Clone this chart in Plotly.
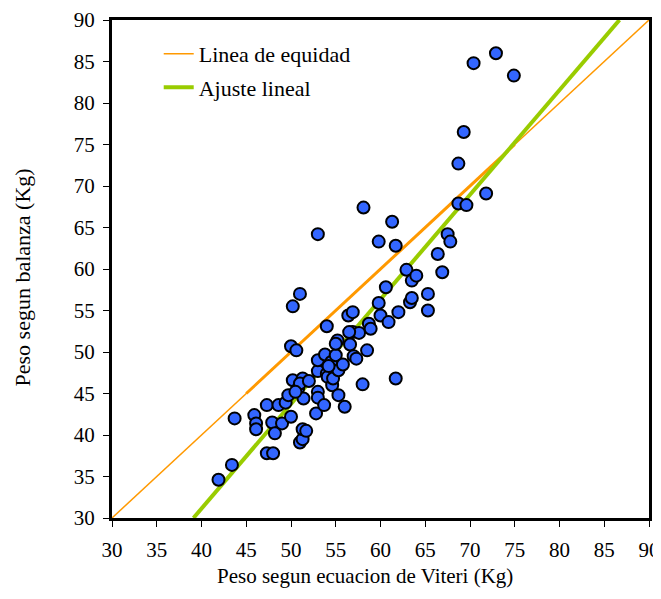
import plotly.graph_objects as go

# Peso segun ecuacion de Viteri (x) vs peso segun balanza (y)
viteri = [41.9, 43.4, 43.7, 45.9, 46.1, 46.1, 47.3, 47.3, 48.0, 47.9, 48.2, 48.6,
          49.0, 49.4, 49.7, 50.0, 50.0, 50.2, 50.2, 50.6, 50.8, 51.0, 51.0, 51.3,
          51.3, 51.7, 51.3, 51.0, 51.4, 52.8, 53.0, 53.0, 53.0, 53.0, 53.0, 53.7,
          53.8, 54.0, 54.0, 54.1, 54.5, 54.6, 54.7, 55.0, 55.2, 55.3, 55.3, 55.8,
          56.0, 56.4, 56.6, 56.9, 56.9, 57.0, 57.3, 57.6, 58.0, 58.1, 58.5, 58.7,
          58.9, 59.8, 59.8, 60.0, 60.6, 60.9, 61.3, 61.7, 61.7, 62.0, 62.9, 63.3,
          63.5, 63.5, 64.0, 65.3, 65.3, 66.4, 66.9, 67.5, 67.8, 68.7, 69.6, 68.7,
          69.3, 70.4, 71.8, 72.9, 74.9, 56.5, 55.0, 54.2, 50.5, 52.0]
balanza = [34.6, 36.4, 42.0, 42.4, 41.4, 40.7, 43.6, 37.8, 37.8, 41.5, 40.2, 43.6,
           41.4, 43.9, 44.8, 42.2, 50.7, 46.6, 55.5, 50.2, 45.6, 57.0, 39.1, 39.5,
           40.7, 40.5, 46.8, 46.2, 44.4, 42.6, 45.2, 44.5, 64.2, 47.7, 49.0, 43.6,
           49.7, 53.1, 47.4, 47.0, 48.8, 46.0, 46.8, 49.6, 51.4, 47.8, 44.8, 48.5,
           43.4, 54.4, 50.9, 54.8, 52.4, 49.5, 49.2, 52.3, 46.1, 67.4, 50.2, 53.4,
           52.8, 63.3, 55.9, 54.4, 57.8, 53.6, 65.7, 62.8, 46.8, 54.8, 59.9, 56.0,
           58.6, 56.5, 59.2, 57.0, 55.0, 61.8, 59.6, 64.2, 63.3, 67.9, 67.7, 72.7,
           76.5, 84.8, 69.1, 86.0, 83.3, 52.4, 51.0, 48.3, 45.2, 46.5]

equidad_x = [30, 90]
equidad_y = [30, 90]
equidad_tramo = [45, 75]

ajuste_x = [39.1, 86.7]
ajuste_y = [30, 90]

ticks = list(range(30, 95, 5))

font_family = "Liberation Serif, Times New Roman, serif"

fig = go.Figure()
fig.add_trace(go.Scatter(x=equidad_x, y=equidad_y, mode='lines',
                         line=dict(color='#FF9900', width=1.5),
                         name='Linea de equidad', legendgroup='a'))
fig.add_trace(go.Scatter(x=equidad_tramo, y=equidad_tramo, mode='lines',
                         line=dict(color='#FF9900', width=3),
                         showlegend=False, hoverinfo='skip', legendgroup='a'))
fig.add_trace(go.Scatter(x=ajuste_x, y=ajuste_y, mode='lines',
                         line=dict(color='#99CC00', width=4),
                         name='Ajuste lineal', legendgroup='b'))
fig.add_trace(go.Scatter(x=viteri, y=balanza, mode='markers',
                         marker=dict(size=12, color='#3366FF',
                                     line=dict(color='black', width=2)),
                         showlegend=False))

axis_style = dict(range=[30, 90], tickvals=ticks, showgrid=False, zeroline=False,
                  showline=True, linecolor='black', linewidth=3, mirror=True,
                  ticks='outside', ticklen=6, tickwidth=1, tickcolor='black',
                  automargin=False, ticklabeloverflow='allow',
                  tickfont=dict(family=font_family, size=21, color='black'))

# the page body adds an 8px margin, so the figure is a bit smaller than the window
fig.update_layout(
    width=653, height=591,
    margin=dict(l=104, r=12, t=12, b=81),
    paper_bgcolor='white', plot_bgcolor='white',
    font=dict(family=font_family, color='black'),
    xaxis=dict(ticklabelstandoff=5, **axis_style),
    yaxis=dict(ticklabelstandoff=4, **axis_style),
    legend=dict(x=0.087, y=0.974, xanchor='left', yanchor='top',
                bgcolor='rgba(0,0,0,0)', font=dict(size=22),
                tracegroupgap=2),
    showlegend=True,
    annotations=[
        dict(text='Peso segun ecuacion de Viteri (Kg)', xref='paper', yref='paper',
             x=0.472, y=-0.1165, xanchor='center', yanchor='middle',
             showarrow=False, font=dict(size=21)),
        dict(text='Peso segun balanza (Kg)', xref='paper', yref='paper',
             x=-0.1667, y=0.484, xanchor='center', yanchor='middle',
             textangle=-90, showarrow=False, font=dict(size=22)),
    ],
)

fig.write_html("out.html")
